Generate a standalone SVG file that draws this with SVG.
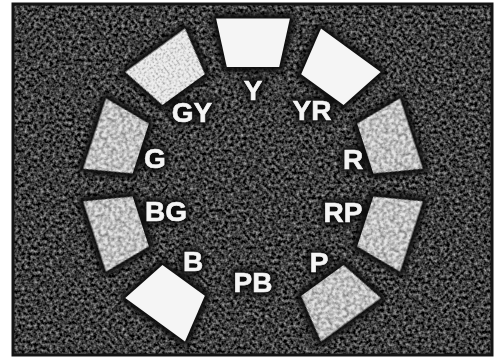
<svg xmlns="http://www.w3.org/2000/svg" xmlns:xlink="http://www.w3.org/1999/xlink" width="500" height="360" viewBox="0 0 500 360">
<defs>
<style>
.lbl{font-family:"Liberation Sans",Arial,sans-serif;font-weight:bold;font-size:28px;text-anchor:middle;fill:#f4f4f4;stroke:#f4f4f4;stroke-width:0.6}
.lh{font-family:"Liberation Sans",Arial,sans-serif;font-weight:bold;font-size:28px;text-anchor:middle;fill:#0a0a0a;stroke:#0a0a0a;stroke-width:7;stroke-linejoin:round}
.th{fill:#0a0a0a;stroke:#0a0a0a;stroke-width:9;stroke-linejoin:round}
.white{fill:#f5f5f5}
.light{fill:#f0f0f0;filter:url(#speck)}
.mid{fill:#e4e4e4;filter:url(#mottle)}
</style>
<path id="tile" d="M216.1,18.5 L289.9,18.5 L279.2,67 L226.8,67 Z"/>
<filter id="grain" x="0" y="0" width="500" height="360" filterUnits="userSpaceOnUse" color-interpolation-filters="sRGB">
<feTurbulence type="fractalNoise" baseFrequency="0.32" numOctaves="2" seed="7"/>
<feColorMatrix type="matrix" values="1.1 0 0 0 -0.31 1.1 0 0 0 -0.31 1.1 0 0 0 -0.31 0 0 0 0 1"/>
<feComposite in2="SourceAlpha" operator="in"/>
</filter>
<filter id="mottle" color-interpolation-filters="sRGB">
<feTurbulence type="fractalNoise" baseFrequency="0.3" numOctaves="3" seed="3" result="n"/>
<feColorMatrix in="n" type="matrix" values="1 0 0 0 0.34 1 0 0 0 0.34 1 0 0 0 0.34 0 0 0 0 1" result="g"/>
<feBlend in="SourceGraphic" in2="g" mode="multiply" result="m"/>
<feComposite in="m" in2="SourceAlpha" operator="in"/>
</filter>
<filter id="speck" color-interpolation-filters="sRGB">
<feTurbulence type="fractalNoise" baseFrequency="0.5" numOctaves="2" seed="11" result="n"/>
<feColorMatrix in="n" type="matrix" values="1 0 0 0 0.45 1 0 0 0 0.45 1 0 0 0 0.45 0 0 0 0 1" result="g"/>
<feBlend in="SourceGraphic" in2="g" mode="multiply" result="m"/>
<feComposite in="m" in2="SourceAlpha" operator="in"/>
</filter>
<filter id="halo" x="-30%" y="-30%" width="160%" height="160%">
<feGaussianBlur stdDeviation="2.5"/>
</filter>
</defs>
<rect x="0" y="0" width="500" height="360" fill="#ffffff"/>
<rect id="background" x="12" y="3" width="481" height="353" fill="#000" filter="url(#grain)"/>
<rect x="13" y="4" width="479" height="351" fill="none" stroke="#141414" stroke-width="3"/>
<g id="halos" filter="url(#halo)">
<use xlink:href="#tile" class="th"/>
<use xlink:href="#tile" class="th" transform="rotate(36 253 185)"/>
<use xlink:href="#tile" class="th" transform="rotate(72 253 185)"/>
<use xlink:href="#tile" class="th" transform="rotate(108 253 185)"/>
<use xlink:href="#tile" class="th" transform="rotate(144 253 185)"/>
<use xlink:href="#tile" class="th" transform="rotate(216 253 185)"/>
<use xlink:href="#tile" class="th" transform="rotate(252 253 185)"/>
<use xlink:href="#tile" class="th" transform="rotate(288 253 185)"/>
<use xlink:href="#tile" class="th" transform="rotate(324 253 185)"/>
<text class="lh" x="253" y="100">Y</text>
<text class="lh" x="312" y="120">YR</text>
<text class="lh" x="353" y="169">R</text>
<text class="lh" x="343" y="222">RP</text>
<text class="lh" x="319" y="272">P</text>
<text class="lh" x="253" y="292">PB</text>
<text class="lh" x="193" y="271">B</text>
<text class="lh" x="166" y="221">BG</text>
<text class="lh" x="155" y="168">G</text>
<text class="lh" x="192" y="122">GY</text>
</g>
<g id="Y"><use xlink:href="#tile" class="white"/><text class="lbl" x="253" y="100">Y</text></g>
<g id="YR"><use xlink:href="#tile" class="white" transform="rotate(36 253 185)"/><text class="lbl" x="312" y="120">YR</text></g>
<g id="R"><use xlink:href="#tile" class="mid" transform="rotate(72 253 185)"/><text class="lbl" x="353" y="169">R</text></g>
<g id="RP"><use xlink:href="#tile" class="mid" transform="rotate(108 253 185)"/><text class="lbl" x="343" y="222">RP</text></g>
<g id="P"><use xlink:href="#tile" class="mid" transform="rotate(144 253 185)"/><text class="lbl" x="319" y="272">P</text></g>
<g id="PB"><text class="lbl" x="253" y="292">PB</text></g>
<g id="B"><use xlink:href="#tile" class="white" transform="rotate(216 253 185)"/><text class="lbl" x="193" y="271">B</text></g>
<g id="BG"><use xlink:href="#tile" class="mid" transform="rotate(252 253 185)"/><text class="lbl" x="166" y="221">BG</text></g>
<g id="G"><use xlink:href="#tile" class="mid" transform="rotate(288 253 185)"/><text class="lbl" x="155" y="168">G</text></g>
<g id="GY"><use xlink:href="#tile" class="light" transform="rotate(324 253 185)"/><text class="lbl" x="192" y="122">GY</text></g>
</svg>
